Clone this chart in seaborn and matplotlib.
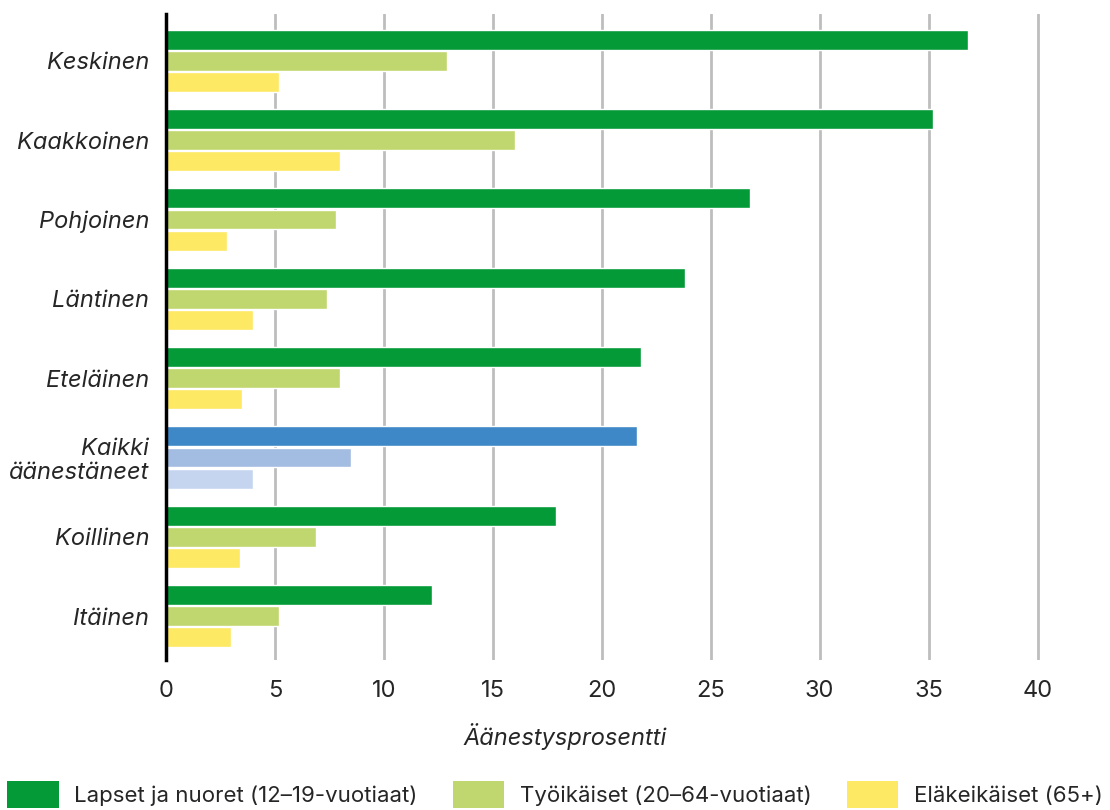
import numpy as np
import pandas as pd
import seaborn as sns
import matplotlib.pyplot as plt
from matplotlib.patches import Patch

# data
alueet = ['Keskinen', 'Kaakkoinen', 'Pohjoinen', 'Läntinen', 'Eteläinen',
          'Kaikki\näänestäneet', 'Koillinen', 'Itäinen']
ryhmat = ['Lapset ja nuoret (12–19-vuotiaat)', 'Työikäiset (20–64-vuotiaat)',
          'Eläkeikäiset (65+)']
nuoret = [36.8, 35.2, 26.8, 23.8, 21.8, 21.6, 17.9, 12.2]
tyoikaiset = [12.9, 16.0, 7.8, 7.4, 8.0, 8.5, 6.9, 5.2]
elakeikaiset = [5.2, 8.0, 2.8, 4.0, 3.5, 4.0, 3.4, 3.0]

varit = ['#049a38', '#c0d66e', '#fde963']
siniset = ['#3e88c7', '#a3bde2', '#c5d5ef']

df = pd.DataFrame({
    'alue': alueet * 3,
    'ryhma': [r for r in ryhmat for _ in alueet],
    'arvo': nuoret + tyoikaiset + elakeikaiset,
})

sns.set_style('white')
plt.rcParams['font.family'] = ['Inter', 'DejaVu Sans']

fig = plt.figure(figsize=(11.1, 8.1), dpi=100)
ax = fig.add_axes([0.1495, 0.185, 0.8245, 0.798])

sns.barplot(data=df, y='alue', x='arvo', hue='ryhma', orient='h',
            palette=varit, gap=0.06, width=0.8, legend=False, ax=ax,
            saturation=1, errorbar=None)

# Kaikki äänestäneet sinisellä
kaikki = alueet.index('Kaikki\näänestäneet')
for j, cont in enumerate(ax.containers):
    cont[kaikki].set_facecolor(siniset[j])

ax.set_xlim(0, 42)
ax.set_ylim(7.555, -0.593)
ax.set_xticks(np.arange(0, 41, 5))
ax.tick_params(axis='x', labelsize=17, length=0, pad=14)
ax.tick_params(axis='y', labelsize=17, length=0, pad=12)
for t in ax.get_yticklabels():
    t.set_fontstyle('italic')
    t.set_linespacing(1.1)
ax.set_xlabel('')
ax.set_ylabel('')
ax.xaxis.grid(True, color='#bdbdbd', linewidth=2)
ax.set_axisbelow(True)
for s in ['top', 'right', 'bottom']:
    ax.spines[s].set_visible(False)
ax.spines['left'].set_color('black')
ax.spines['left'].set_linewidth(2.5)

fig.text(565 / 1110, 1 - 737 / 810, 'Äänestysprosentti', ha='center', va='center',
         fontsize=17, fontstyle='italic')

kahvat = [Patch(facecolor=c, edgecolor='none') for c in varit]
fig.legend(kahvat, ryhmat, loc='lower center', bbox_to_anchor=(0.5, -0.022), ncol=3,
           frameon=False, fontsize=16, handlelength=2.3, handleheight=1.45,
           handletextpad=0.7, columnspacing=1.6)

fig.savefig('out.png', dpi=100)
